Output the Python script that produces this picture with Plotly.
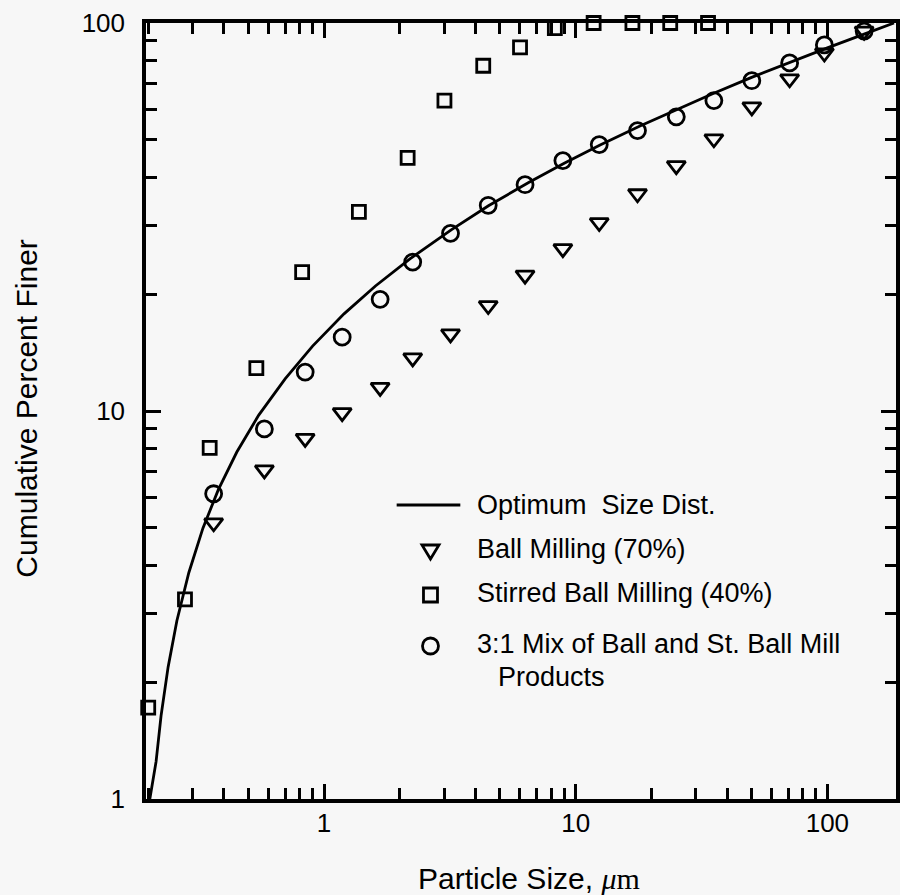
import math
import plotly.graph_objects as go

# ---------------- data ----------------
# particle sizes (um) shared by the ball-milled and 3:1 mix products
size_um = [0.364, 0.579, 0.841, 1.18, 1.67, 2.25, 3.18, 4.49, 6.29, 8.89,
           12.4, 17.6, 25.1, 35.4, 50.1, 70.8, 97.3, 140.0]
ball_cpft = [5.15, 7.05, 8.5, 9.9, 11.5, 13.7, 15.8, 18.7, 22.4, 26.2,
             30.6, 36.3, 42.9, 50.3, 60.8, 71.8, 83.7, 95.3]
mix_cpft = [6.12, 8.99, 12.6, 15.5, 19.4, 24.2, 28.7, 33.9, 38.3, 44.2,
            48.6, 52.8, 57.3, 63.1, 71.0, 78.9, 87.8, 95.3]

stirred_um = [0.20, 0.280, 0.351, 0.538, 0.818, 1.375, 2.148, 3.008, 4.29,
              6.007, 8.26, 11.78, 16.8, 23.74, 33.56]
stirred_cpft = [1.72, 3.27, 8.03, 12.9, 22.8, 32.6, 44.9, 63.1, 77.6,
                86.5, 97.0, 100, 100, 100, 100]

opt_um = [0.203, 0.215, 0.225, 0.24, 0.26, 0.29, 0.33, 0.38, 0.45, 0.55,
          0.7, 0.9, 1.2, 1.6, 2.2, 3.2, 4.5, 6.5, 9, 12.5, 18, 25, 35, 50,
          70, 100, 140, 184]
opt_cpft = [1.0, 1.25, 1.64, 2.19, 2.88, 3.83, 4.99, 6.27, 7.84, 9.76,
            12.1, 14.7, 17.8, 21.0, 24.7, 29.3, 33.8, 38.8, 43.5, 48.5,
            54.3, 59.8, 65.7, 72.4, 79.0, 86.3, 93.6, 100]

legend_labels = ["Optimum\u00a0 Size Dist.", "Ball Milling (70%)",
                 "Stirred Ball Milling (40%)",
                 "3:1 Mix of Ball and St. Ball Mill", "Products"]

x_tickvals = [1, 10, 100]
x_ticktext = ["1", "10", "100"]
x_minor = [0.2, 0.3, 0.4, 0.5, 0.6, 0.7, 0.8, 0.9,
           2, 3, 4, 5, 6, 7, 8, 9, 20, 30, 40, 50, 60, 70, 80, 90]
y_tickvals = [1, 10, 100]
y_ticktext = ["1", "10", "100"]
y_minor = [2, 3, 4, 5, 6, 7, 8, 9, 20, 30, 40, 50, 60, 70, 80, 90]

# ---------------- layout geometry ----------------
W, H = 900, 895
L, R, T, B = 146, 0, 23, 96
PW, PH = W - L - R, H - T - B
BG = "#f7f7f7"
FONT = "Liberation Sans, Arial, Helvetica, sans-serif"
LW = 2.8


def px(xp):
    return (xp - L) / PW


def py(yp):
    return (H - B - yp) / PH


fig = go.Figure()
fig.add_trace(go.Scatter(x=opt_um, y=opt_cpft, mode="lines",
                         line=dict(color="black", width=LW),
                         showlegend=False, cliponaxis=False))
fig.add_trace(go.Scatter(x=size_um, y=ball_cpft, mode="markers",
                         marker=dict(symbol="triangle-down-open", size=16,
                                     color="black",
                                     line=dict(width=LW, color="black")),
                         showlegend=False, cliponaxis=False))
fig.add_trace(go.Scatter(x=stirred_um, y=stirred_cpft, mode="markers",
                         marker=dict(symbol="square-open", size=13,
                                     color="black",
                                     line=dict(width=LW, color="black")),
                         showlegend=False, cliponaxis=False))
fig.add_trace(go.Scatter(x=size_um, y=mix_cpft, mode="markers",
                         marker=dict(symbol="circle-open", size=16,
                                     color="black",
                                     line=dict(width=LW, color="black")),
                         showlegend=False, cliponaxis=False))

axis_common = dict(type="log", showgrid=False, zeroline=False,
                   showline=True, linecolor="black", linewidth=3.5,
                   mirror="ticks", ticks="inside", tickcolor="black",
                   tickwidth=2.8, ticklen=15, tickmode="array",
                   tickfont=dict(family=FONT, size=26, color="black"))

fig.update_xaxes(**axis_common,
                 range=[math.log10(0.196), math.log10(187.4)],
                 tickvals=x_tickvals, ticktext=x_ticktext,
                 ticklabelstandoff=-2,
                 minor=dict(tickmode="array", tickvals=x_minor,
                            ticks="inside", ticklen=11, tickwidth=2.8,
                            tickcolor="black", showgrid=False))
fig.update_yaxes(**axis_common,
                 range=[0, 2],
                 tickvals=y_tickvals, ticktext=y_ticktext,
                 ticklabelstandoff=12,
                 minor=dict(tickmode="array", tickvals=y_minor,
                            ticks="inside", ticklen=11, tickwidth=2.8,
                            tickcolor="black", showgrid=False))

ann_font = dict(family=FONT, size=27, color="black")
title_font = dict(family=FONT, size=30, color="black")
annotations = [
    dict(text="Particle Size, <span style='font-family:Liberation Serif'><i>\u03bc</i>m</span>",
         xref="paper", yref="paper", x=px(531), y=py(878),
         xanchor="center", yanchor="middle", showarrow=False,
         font=title_font),
    dict(text="Cumulative Percent Finer", textangle=-90,
         xref="paper", yref="paper", x=px(25), y=py(409),
         xanchor="center", yanchor="middle", showarrow=False,
         font=title_font),
]
legend_rows = [(477, 505), (477, 549), (477, 593), (477, 644), (498, 677)]
for lab, (lx, ly) in zip(legend_labels, legend_rows):
    annotations.append(dict(text=lab, xref="paper", yref="paper",
                            x=px(lx), y=py(ly), xanchor="left",
                            yanchor="middle", showarrow=False,
                            font=ann_font))

sym_line = dict(color="black", width=LW)
shapes = [
    dict(type="line", xref="paper", yref="paper", x0=px(398), x1=px(462),
         y0=py(505), y1=py(505), line=sym_line),
    dict(type="path", xref="paper", yref="paper", xsizemode="pixel",
         ysizemode="pixel", xanchor=px(432), yanchor=py(551),
         path="M-8.5,6 L8.5,6 L0,-8 Z", line=sym_line),
    dict(type="rect", xref="paper", yref="paper", xsizemode="pixel",
         ysizemode="pixel", xanchor=px(432), yanchor=py(595),
         x0=-7, x1=7, y0=-7, y1=7, line=sym_line),
    dict(type="circle", xref="paper", yref="paper", xsizemode="pixel",
         ysizemode="pixel", xanchor=px(432), yanchor=py(646),
         x0=-8, x1=8, y0=-8, y1=8, line=sym_line),
]

fig.update_layout(width=W, height=H,
                  margin=dict(l=L, r=R, t=T, b=B, pad=0),
                  paper_bgcolor=BG, plot_bgcolor=BG,
                  showlegend=False, annotations=annotations, shapes=shapes,
                  font=dict(family=FONT, color="black"))

fig.write_html("out.html",
               config={"displayModeBar": False},
               post_script="document.body.style.margin='0';"
                           "document.body.style.padding='0';"
                           "document.body.style.overflow='hidden';")
